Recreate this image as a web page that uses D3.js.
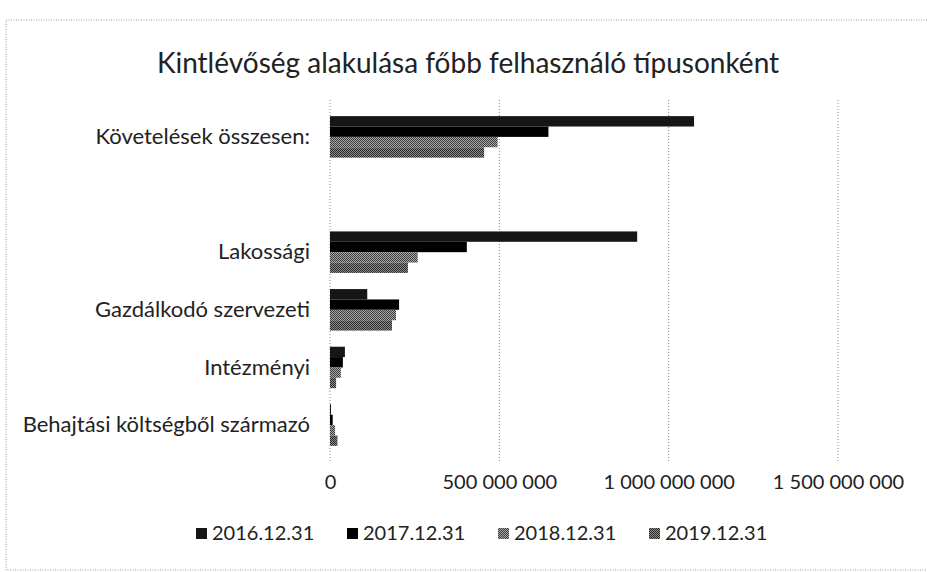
<!DOCTYPE html>
<html>
<head>
<meta charset="utf-8">
<script src="https://cdn.jsdelivr.net/npm/d3@7"></script>
<style>
  body { margin: 0; background: #fff; }
  svg { display: block; font-family: Lato, "Noto Sans", sans-serif; }
</style>
</head>
<body>
<svg id="chart"></svg>
<script>
let categories = ["Követelések összesen:", " ", "Lakossági", "Gazdálkodó szervezeti", "Intézményi", "Behajtási költségből származó"]
let seriesNames = ["2016.12.31", "2017.12.31", "2018.12.31", "2019.12.31"]
let values2016 = [1075000000, null, 907000000, 110000000, 44000000, 3000000]
let values2017 = [645000000, null, 404000000, 204000000, 38000000, 8000000]
let values2018 = [495000000, null, 259000000, 195000000, 32000000, 15000000]
let values2019 = [455000000, null, 230000000, 183000000, 18000000, 22000000]
let tickValues = [0, 500000000, 1000000000, 1500000000]
let titleText = "Kintlévőség alakulása főbb felhasználó típusonként"

let allValues = [values2016, values2017, values2018, values2019]
let fills = ["#161616", "#000000", "url(#dither2018)", "url(#dither2019)"]

let width = 927
let height = 572
let plot = { left: 330, right: 838, top: 100, bottom: 462 }

let svg = d3.select('#chart')
  .attr('width', width)
  .attr('height', height)

// halftone look of the grey series
let defs = svg.append('defs')
let makeDither = (id, light, dark) => {
  let p = defs.append('pattern')
    .attr('id', id)
    .attr('width', 2)
    .attr('height', 2)
    .attr('patternUnits', 'userSpaceOnUse')
  p.append('rect').attr('width', 2).attr('height', 2).attr('fill', light)
  p.append('rect').attr('width', 1).attr('height', 1).attr('fill', dark)
  p.append('rect').attr('x', 1).attr('y', 1).attr('width', 1).attr('height', 1).attr('fill', dark)
}
makeDither('dither2018', '#a8a8a8', '#3c3c3c')
makeDither('dither2019', '#8c8c8c', '#2a2a2a')

// outer border of the chart area
svg.append('rect')
  .attr('x', 6)
  .attr('y', 20)
  .attr('width', 940)
  .attr('height', 550)
  .attr('fill', 'none')
  .attr('stroke', '#9a9a9a')
  .attr('stroke-dasharray', '1,1.5')

svg.append('text')
  .attr('x', 468)
  .attr('y', 73)
  .attr('text-anchor', 'middle')
  .attr('font-size', 28)
  .attr('fill', '#222')
  .text(titleText)

let xScale = d3.scaleLinear()
  .domain([0, 1500000000])
  .range([plot.left, plot.right])

let yScale = d3.scaleBand()
  .domain(categories)
  .range([plot.top, plot.bottom])
  .paddingInner(0.28)
  .paddingOuter(0.28)

let ySub = d3.scaleBand()
  .domain(seriesNames)
  .range([0, yScale.bandwidth()])

// gridlines
svg.append('g')
  .selectAll('line')
  .data(tickValues)
  .enter()
  .append('line')
  .attr('x1', (d) => xScale(d))
  .attr('x2', (d) => xScale(d))
  .attr('y1', plot.top)
  .attr('y2', plot.bottom)
  .attr('stroke', '#8a8a8a')
  .attr('stroke-dasharray', '1,2')

// bars
let rows = []
seriesNames.forEach((s, i) => {
  categories.forEach((c, j) => {
    if (allValues[i][j] != null) {
      rows.push({ series: s, category: c, value: allValues[i][j], fill: fills[i] })
    }
  })
})

svg.append('g')
  .selectAll('rect')
  .data(rows)
  .enter()
  .append('rect')
  .attr('x', xScale(0))
  .attr('y', (d) => yScale(d.category) + ySub(d.series))
  .attr('width', (d) => xScale(d.value) - xScale(0))
  .attr('height', ySub.bandwidth())
  .attr('fill', (d) => d.fill)

let spaced = (d) => d3.format(',')(d).replace(/,/g, ' ')

let xAxis = d3.axisBottom(xScale)
  .tickValues(tickValues)
  .tickFormat(spaced)
  .tickSize(0)
  .tickPadding(13)

svg.append('g')
  .attr('transform', 'translate(0,' + plot.bottom + ')')
  .call(xAxis)
  .call((g) => g.select('.domain').remove())
  .selectAll('text')
  .attr('font-size', 20)
  .attr('font-family', 'Lato, "Noto Sans", sans-serif')
  .attr('fill', '#222')

let yAxis = d3.axisLeft(yScale)
  .tickSize(0)
  .tickPadding(20)

svg.append('g')
  .attr('transform', 'translate(' + plot.left + ',0)')
  .call(yAxis)
  .call((g) => g.select('.domain').remove())
  .selectAll('text')
  .attr('font-size', 22)
  .attr('font-family', 'Lato, "Noto Sans", sans-serif')
  .attr('fill', '#222')

// legend
let legendFills = ["#161616", "#000000", "url(#dither2018)", "url(#dither2019)"]
let itemStep = 151
let legendLeft = 478 - (itemStep * seriesNames.length - 40) / 2
let legend = svg.append('g')
  .selectAll('g')
  .data(seriesNames)
  .enter()
  .append('g')
  .attr('transform', (d, i) => 'translate(' + (legendLeft + i * itemStep) + ',533)')

legend.append('rect')
  .attr('x', 0)
  .attr('y', -5)
  .attr('width', 11)
  .attr('height', 11)
  .attr('fill', (d, i) => legendFills[i])

legend.append('text')
  .attr('x', 16)
  .attr('y', 0)
  .attr('dy', '0.35em')
  .attr('font-size', 20)
  .attr('fill', '#222')
  .text((d) => d)
</script>
</body>
</html>
